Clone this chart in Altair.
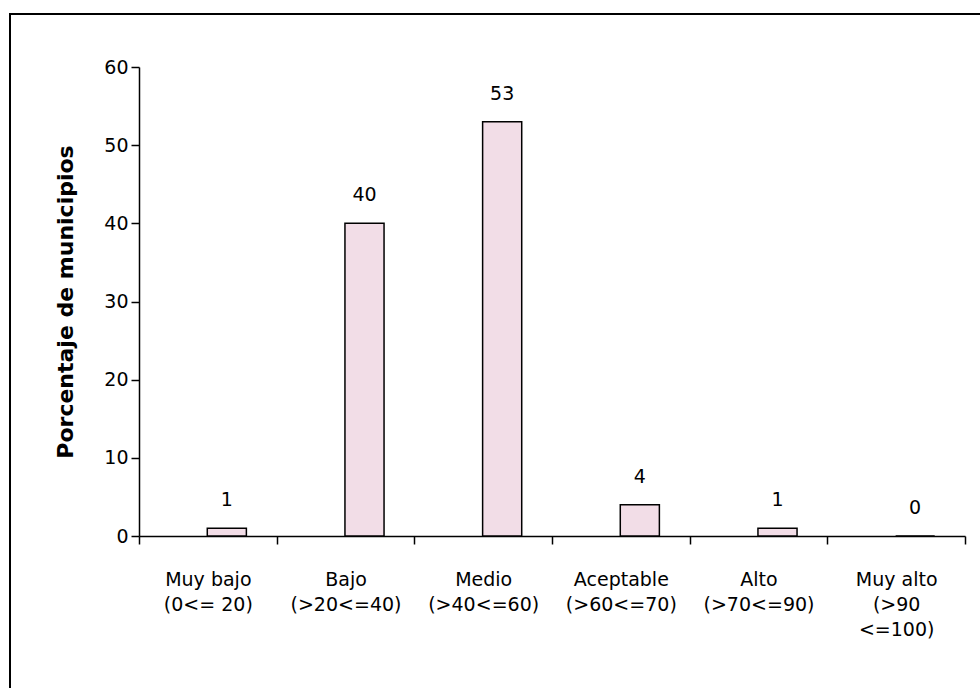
import altair as alt
import pandas as pd

# Nivel de desempeño municipal (porcentaje de municipios por categoría)
categorias = [
    ["Muy bajo", "(0<= 20)"],
    ["Bajo", "(>20<=40)"],
    ["Medio", "(>40<=60)"],
    ["Aceptable", "(>60<=70)"],
    ["Alto", "(>70<=90)"],
    ["Muy alto", "(>90", "<=100)"],
]
porcentajes = [1, 40, 53, 4, 1, 0]
marcas_y = [0, 10, 20, 30, 40, 50, 60]

claves = [" ".join(c) for c in categorias]
df = pd.DataFrame({"categoria": claves, "valor": porcentajes})

FONT = "DejaVu Sans"
SIZE = 19
DESPLAZAMIENTO = 19  # las barras quedan corridas a la derecha del centro de su banda

# Etiquetas de varias líneas para el eje x
label_expression = ""
for k, c in zip(claves, categorias):
    arr = "[" + ",".join("'" + x + "'" for x in c) + "]"
    label_expression += f"datum.label == '{k}' ? {arr} : "
label_expression += "datum.label"

x_enc = alt.X(
    "categoria:N",
    sort=claves,
    title=None,
    scale=alt.Scale(paddingInner=0, paddingOuter=0),
    axis=alt.Axis(
        labelExpr=label_expression,
        labelAngle=0,
        labelFont=FONT,
        labelFontSize=SIZE,
        labelColor="#000000",
        labelPadding=26,
        labelLineHeight=25,
        labelBaseline="top",
        domainColor="#000000",
        domainWidth=1.5,
        tickColor="#000000",
        tickWidth=1.5,
        tickSize=8,
        tickBand="extent",
        grid=False,
    ),
)

y_enc = alt.Y(
    "valor:Q",
    title="Porcentaje de municipios",
    scale=alt.Scale(domain=[0, 60], nice=False),
    axis=alt.Axis(
        values=marcas_y,
        labelFont=FONT,
        labelFontSize=SIZE,
        labelColor="#000000",
        labelPadding=3,
        titleFont=FONT,
        titleFontSize=22,
        titleFontWeight="bold",
        titleColor="#000000",
        titlePadding=26,
        domainColor="#000000",
        domainWidth=1.5,
        tickColor="#000000",
        tickWidth=1.5,
        tickSize=8,
        grid=False,
    ),
)

bars = alt.Chart(df).mark_bar(
    fill="#f2dde7", stroke="#000000", strokeWidth=1.5,
    width=alt.RelativeBandSize(0.284), xOffset=DESPLAZAMIENTO
).encode(x=x_enc, y=y_enc)

etiquetas = alt.Chart(df).mark_text(
    font=FONT, fontSize=SIZE, color="#000000", baseline="middle",
    dy=-28, dx=DESPLAZAMIENTO
).encode(
    x=alt.X("categoria:N", sort=claves),
    y=alt.Y("valor:Q"),
    text=alt.Text("valor:Q"),
)

# Marco exterior del gráfico
marco = alt.Chart(pd.DataFrame({"a": [0]})).mark_rect(
    fill=None, stroke="#000000", strokeWidth=2
).encode(
    x=alt.value(-129),
    x2=alt.value(900),
    y=alt.value(-53),
    y2=alt.value(700),
)

chart = (
    alt.layer(marco, bars, etiquetas)
    .properties(
        width=826,
        height=469,
        autosize=alt.AutoSizeParams(type="none"),
        padding={"left": 139, "top": 67, "right": 15, "bottom": 152},
        background="#ffffff",
    )
    .configure_view(stroke=None)
)

chart.save("out.html", embed_options={"renderer": "svg", "actions": False})
